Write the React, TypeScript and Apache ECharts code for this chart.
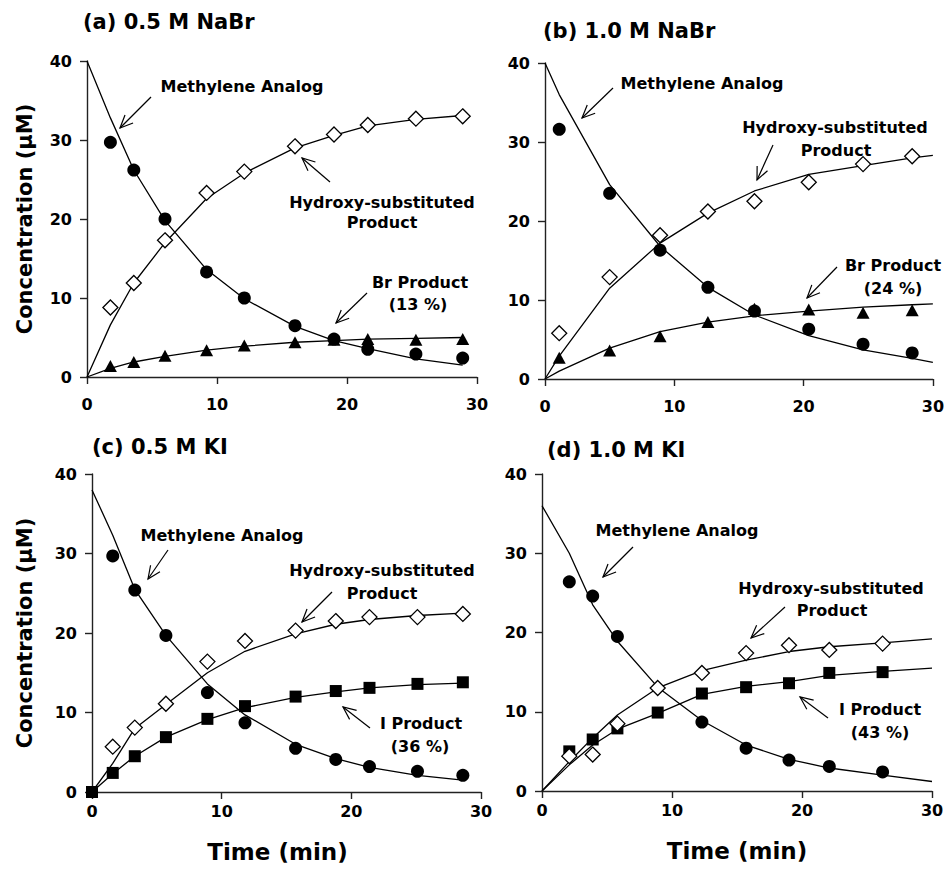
import React, { useEffect, useRef } from "react";
import * as echarts from "echarts";

// ---------- Data ----------
// Panel (a) 0.5 M NaBr
const A_TIME = [1.8, 3.6, 6.0, 9.2, 12.1, 16.0, 19.0, 21.6, 25.3, 28.9];
const A_METHYLENE = [29.7, 26.2, 20.0, 13.3, 10.0, 6.5, 4.8, 3.5, 2.9, 2.4];
const A_HYDROXY = [8.8, 11.9, 17.3, 23.3, 26.0, 29.2, 30.7, 31.9, 32.7, 33.0];
const A_BR = [1.4, 1.9, 2.7, 3.4, 4.0, 4.4, 4.7, 4.8, 4.7, 4.8];
const A_FIT_TIME = [0, 1.8, 3.6, 6.0, 9.2, 12.1, 16.0, 19.0, 21.6, 25.3, 28.9];
const A_FIT_METHYLENE = [40, 32.8, 26.2, 19.8, 13.6, 9.9, 6.4, 4.6, 3.6, 2.3, 1.5];
const A_FIT_HYDROXY = [0, 6.6, 11.9, 17.0, 22.6, 25.8, 29.0, 30.6, 31.8, 32.6, 33.1];
const A_FIT_BR = [0, 1.1, 1.9, 2.6, 3.4, 3.9, 4.4, 4.6, 4.8, 4.9, 5.0];

// Panel (b) 1.0 M NaBr
const B_TIME = [1.1, 5.0, 8.9, 12.6, 16.2, 20.4, 24.6, 28.4];
const B_METHYLENE = [31.6, 23.5, 16.3, 11.6, 8.6, 6.3, 4.4, 3.3];
const B_HYDROXY = [5.8, 12.9, 18.2, 21.2, 22.5, 24.9, 27.2, 28.2];
const B_BR = [2.7, 3.6, 5.4, 7.2, 8.9, 8.8, 8.4, 8.7];
const B_FIT_TIME = [0, 1.1, 5.0, 8.9, 12.6, 16.2, 20.4, 24.6, 28.4, 30];
const B_FIT_METHYLENE = [40, 36.0, 24.6, 16.8, 11.6, 8.1, 5.5, 3.7, 2.6, 2.1];
const B_FIT_HYDROXY = [0, 2.9, 11.5, 17.2, 21.0, 23.8, 25.9, 27.0, 28.0, 28.3];
const B_FIT_BR = [0, 1.0, 3.9, 6.0, 7.2, 8.0, 8.6, 9.1, 9.4, 9.5];

// Panel (c) 0.5 M KI
const C_TIME = [1.6, 3.3, 5.7, 8.9, 11.8, 15.7, 18.8, 21.4, 25.1, 28.6];
const C_METHYLENE = [29.7, 25.4, 19.7, 12.5, 8.7, 5.5, 4.1, 3.2, 2.6, 2.1];
const C_HYDROXY = [5.7, 8.1, 11.1, 16.4, 19.0, 20.3, 21.5, 22.0, 22.0, 22.4];
const C_I_TIME = [0, 1.6, 3.3, 5.7, 8.9, 11.8, 15.7, 18.8, 21.4, 25.1, 28.6];
const C_I = [0, 2.4, 4.5, 6.9, 9.2, 10.8, 12.0, 12.7, 13.1, 13.6, 13.8];
const C_FIT_TIME = [0, 1.6, 3.3, 5.7, 8.9, 11.8, 15.7, 18.8, 21.4, 25.1, 28.6];
const C_FIT_METHYLENE = [38, 32.3, 25.5, 19.7, 13.6, 9.7, 6.0, 4.2, 3.1, 2.1, 1.5];
const C_FIT_HYDROXY = [0, 3.6, 8.0, 11.0, 15.0, 17.7, 19.9, 21.1, 21.7, 22.2, 22.5];
const C_FIT_I = [0, 2.3, 4.5, 6.9, 9.1, 10.6, 11.9, 12.6, 13.1, 13.5, 13.7];

// Panel (d) 1.0 M KI
const D_M_TIME = [2.1, 3.9, 5.8, 12.3, 15.7, 19.0, 22.1, 26.2];
const D_METHYLENE = [26.4, 24.6, 19.5, 8.7, 5.4, 3.9, 3.1, 2.4];
const D_TIME = [2.1, 3.9, 5.8, 8.9, 12.3, 15.7, 19.0, 22.1, 26.2];
const D_HYDROXY = [4.4, 4.6, 8.5, 13.0, 14.9, 17.4, 18.4, 17.8, 18.6];
const D_I = [5.0, 6.5, 7.9, 9.9, 12.3, 13.1, 13.6, 14.9, 15.0];
const D_FIT_TIME = [0, 2.1, 3.9, 5.8, 8.9, 12.3, 15.7, 19.0, 22.1, 26.2, 30];
const D_FIT_METHYLENE = [36.0, 30.0, 23.5, 18.9, 13.1, 8.9, 5.8, 4.0, 2.9, 2.0, 1.2];
const D_FIT_HYDROXY = [0, 3.7, 6.7, 9.6, 13.0, 15.2, 16.5, 17.6, 18.2, 18.7, 19.2];
const D_FIT_I = [0, 3.3, 5.8, 7.8, 9.8, 12.2, 13.2, 13.8, 14.6, 15.1, 15.5];

const PANEL_TITLES = ["(a) 0.5 M NaBr", "(b) 1.0 M NaBr", "(c) 0.5 M KI", "(d) 1.0 M KI"];
const Y_NAME = "Concentration (\u03BCM)";
const X_NAME = "Time (min)";

// ---------- Layout ----------
const FONT_FAMILY = '"DejaVu Sans", "Liberation Sans", sans-serif';
const GRIDS = [
  { left: 87, top: 61, width: 390, height: 316 },
  { left: 545, top: 63, width: 389, height: 316 },
  { left: 92, top: 474, width: 389, height: 318 },
  { left: 542, top: 474, width: 390, height: 317 },
];
const TITLE_POS = [
  [83, 22],
  [543, 31],
  [92, 447],
  [547, 450],
];

// annotation texts: [text, cx, cy]
const LABELS: [string, number, number][] = [
  ["Methylene Analog", 242, 86],
  ["Hydroxy-substituted", 382, 202],
  ["Product", 382, 222],
  ["Br Product", 420, 282],
  ["(13 %)", 418, 304],
  ["Methylene Analog", 702, 83],
  ["Hydroxy-substituted", 835, 127],
  ["Product", 836, 150],
  ["Br Product", 893, 265],
  ["(24 %)", 893, 288],
  ["Methylene Analog", 222, 535],
  ["Hydroxy-substituted", 382, 570],
  ["Product", 382, 593],
  ["I Product", 421, 723],
  ["(36 %)", 420, 746],
  ["Methylene Analog", 677, 530],
  ["Hydroxy-substituted", 831, 588],
  ["Product", 832, 610],
  ["I Product", 880, 709],
  ["(43 %)", 880, 732],
];

// arrows: [tailX, tailY, tipX, tipY]
const ARROWS: [number, number, number, number][] = [
  [151, 97, 120, 128],
  [330, 182, 302, 158],
  [367, 293, 336, 323],
  [613, 88, 582, 118],
  [773, 145, 757, 180],
  [837, 267, 807, 298],
  [168, 550, 148, 579],
  [332, 592, 302, 622],
  [370, 728, 343, 707],
  [633, 547, 603, 577],
  [785, 607, 751, 638],
  [828, 718, 800, 697],
];

const zip = (xs: number[], ys: number[]) => xs.map((x, i) => [x, ys[i]]);

function arrow(x1: number, y1: number, x2: number, y2: number) {
  const dx = x2 - x1;
  const dy = y2 - y1;
  const len = Math.sqrt(dx * dx + dy * dy);
  const ux = dx / len;
  const uy = dy / len;
  const L = 14;
  const th = (24 * Math.PI) / 180;
  const rot = (a: number) => [ux * Math.cos(a) - uy * Math.sin(a), ux * Math.sin(a) + uy * Math.cos(a)];
  const [ax, ay] = rot(th);
  const [bx, by] = rot(-th);
  const stroke = { stroke: "#000", lineWidth: 1.2, fill: null };
  return [
    { type: "line", shape: { x1, y1, x2, y2 }, style: stroke, silent: true },
    {
      type: "polyline",
      shape: { points: [[x2 - L * ax, y2 - L * ay], [x2, y2], [x2 - L * bx, y2 - L * by]] },
      style: stroke,
      silent: true,
    },
  ];
}

function textEl(text: string, x: number, y: number, size: number, align: string) {
  return {
    type: "text",
    x,
    y,
    silent: true,
    style: {
      text,
      fill: "#000",
      font: `bold ${size}px ${FONT_FAMILY}`,
      align,
      verticalAlign: "middle",
      textAlign: align,
      textVerticalAlign: "middle",
    },
  };
}

export default function App() {
  const ref = useRef<HTMLDivElement>(null);

  useEffect(() => {
    document.body.style.margin = "0";
    if (!ref.current) return;
    const chart = echarts.init(ref.current, null, { renderer: "svg" });

    const panels = [
      {
        fits: [zip(A_FIT_TIME, A_FIT_METHYLENE), zip(A_FIT_TIME, A_FIT_HYDROXY), zip(A_FIT_TIME, A_FIT_BR)],
        circles: zip(A_TIME, A_METHYLENE),
        diamonds: zip(A_TIME, A_HYDROXY),
        halide: zip(A_TIME, A_BR),
        halideSymbol: "triangle",
      },
      {
        fits: [zip(B_FIT_TIME, B_FIT_METHYLENE), zip(B_FIT_TIME, B_FIT_HYDROXY), zip(B_FIT_TIME, B_FIT_BR)],
        circles: zip(B_TIME, B_METHYLENE),
        diamonds: zip(B_TIME, B_HYDROXY),
        halide: zip(B_TIME, B_BR),
        halideSymbol: "triangle",
      },
      {
        fits: [zip(C_FIT_TIME, C_FIT_METHYLENE), zip(C_FIT_TIME, C_FIT_HYDROXY), zip(C_FIT_TIME, C_FIT_I)],
        circles: zip(C_TIME, C_METHYLENE),
        diamonds: zip(C_TIME, C_HYDROXY),
        halide: zip(C_I_TIME, C_I),
        halideSymbol: "rect",
      },
      {
        fits: [zip(D_FIT_TIME, D_FIT_METHYLENE), zip(D_FIT_TIME, D_FIT_HYDROXY), zip(D_FIT_TIME, D_FIT_I)],
        circles: zip(D_M_TIME, D_METHYLENE),
        diamonds: zip(D_TIME, D_HYDROXY),
        halide: zip(D_TIME, D_I),
        halideSymbol: "rect",
      },
    ];

    const axisLine = { show: true, onZero: false, lineStyle: { color: "#222", width: 1.4 } };
    const axisTick = { show: true, inside: false, length: 7, lineStyle: { color: "#222", width: 1.4 } };
    const labelStyle = { color: "#000", fontWeight: "bold", fontSize: 16, fontFamily: FONT_FAMILY };
    const nameStyle = { color: "#000", fontWeight: "bold", fontFamily: FONT_FAMILY };

    const xAxes = GRIDS.map((_, i) => ({
      type: "value",
      gridIndex: i,
      min: 0,
      max: 30,
      interval: 10,
      axisLine,
      axisTick,
      splitLine: { show: false },
      axisLabel: { ...labelStyle, margin: i < 2 ? 19 : 11 },
      name: i >= 2 ? X_NAME : "",
      nameLocation: "middle",
      nameGap: 48,
      nameTextStyle: { ...nameStyle, fontSize: 23, padding: i === 2 ? [0, 18, 0, 0] : 0 },
    }));
    const yAxes = GRIDS.map((_, i) => ({
      type: "value",
      gridIndex: i,
      min: 0,
      max: 40,
      interval: 10,
      axisLine,
      axisTick,
      splitLine: { show: false },
      axisLabel: { ...labelStyle, margin: 15 },
      name: i === 0 || i === 2 ? Y_NAME : "",
      nameLocation: "middle",
      nameGap: i === 0 ? 52 : 57,
      nameRotate: 90,
      nameTextStyle: { ...nameStyle, fontSize: 21 },
    }));

    const series: any[] = [];
    panels.forEach((p, i) => {
      p.fits.forEach((d) => {
        series.push({
          type: "line",
          xAxisIndex: i,
          yAxisIndex: i,
          data: d,
          showSymbol: false,
          symbol: "none",
          smooth: false,
          lineStyle: { color: "#000", width: 1.3 },
          z: 2,
          silent: true,
        });
      });
      series.push({
        type: "scatter",
        xAxisIndex: i,
        yAxisIndex: i,
        data: p.circles,
        symbol: "circle",
        symbolSize: 13,
        itemStyle: { color: "#000", opacity: 1 },
        z: 3,
      });
      series.push({
        type: "scatter",
        xAxisIndex: i,
        yAxisIndex: i,
        data: p.halide,
        symbol: p.halideSymbol,
        symbolSize: p.halideSymbol === "rect" ? 12 : [13, 12],
        itemStyle: { color: "#000", opacity: 1 },
        z: 3,
      });
      series.push({
        type: "scatter",
        xAxisIndex: i,
        yAxisIndex: i,
        data: p.diamonds,
        symbol: "diamond",
        symbolSize: 15,
        itemStyle: { color: "#fff", borderColor: "#000", borderWidth: 1.3, opacity: 1 },
        z: 4,
      });
    });

    const graphic: any[] = [];
    PANEL_TITLES.forEach((t, i) => graphic.push(textEl(t, TITLE_POS[i][0], TITLE_POS[i][1], 21, "left")));
    LABELS.forEach(([t, x, y]) => graphic.push(textEl(t, x, y, 16, "center")));
    ARROWS.forEach(([x1, y1, x2, y2]) => graphic.push(...arrow(x1, y1, x2, y2)));

    chart.setOption({
      animation: false,
      backgroundColor: "#fff",
      grid: GRIDS.map((g) => ({ ...g, containLabel: false })),
      xAxis: xAxes,
      yAxis: yAxes,
      series,
      graphic,
    });

    return () => chart.dispose();
  }, []);

  return <div ref={ref} style={{ width: 947, height: 872 }} />;
}
